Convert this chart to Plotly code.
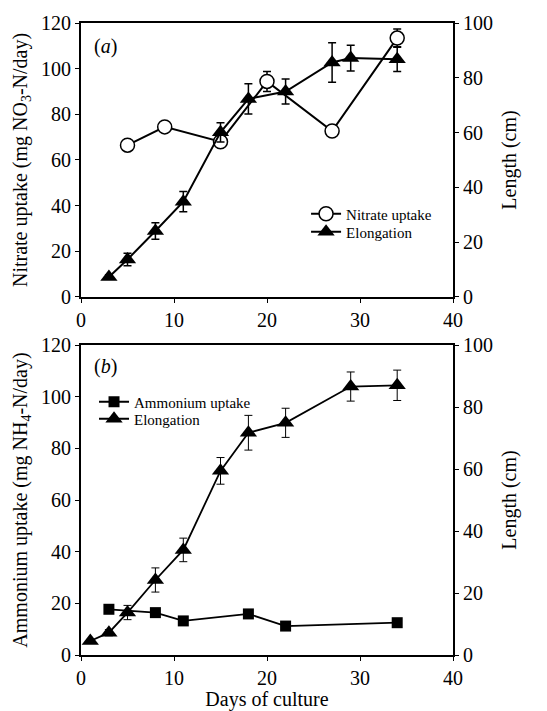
import plotly.graph_objects as go

# ---- data ----
nitrate_days = [5, 9, 15, 20, 27, 34]
nitrate_uptake = [66.5, 74.5, 68, 94.4, 72.7, 113.4]
nitrate_err = [0, 0, 0, 4.4, 0, 4.0]

elong_a_days = [3, 5, 8, 11, 15, 18, 22, 27, 29, 34]
elong_a_len = [7.3, 13.7, 24.1, 34.8, 60.1, 72.3, 75.0, 85.6, 87.2, 86.8]
elong_a_err = [0.8, 2.3, 3.0, 3.7, 3.5, 5.5, 4.6, 7.2, 4.7, 4.5]

ammon_days = [3, 8, 11, 18, 22, 34]
ammon_uptake = [17.7, 16.4, 13.2, 15.9, 11.2, 12.5]

elong_b_days = [1, 3, 5, 8, 11, 15, 18, 22, 29, 34]
elong_b_len = [4.5, 7.2, 13.7, 24.2, 33.9, 59.4, 71.7, 74.9, 86.6, 87.0]
elong_b_err = [0.5, 1.0, 2.3, 3.9, 3.8, 4.3, 5.6, 4.7, 4.7, 4.9]

x_ticks = [0, 10, 20, 30, 40]
left_ticks = [0, 20, 40, 60, 80, 100, 120]
right_ticks = [0, 20, 40, 60, 80, 100]

FONT = "Liberation Serif, Times New Roman, Times, serif"
BLACK = "black"

fig = go.Figure()

# Panel (a)
fig.add_trace(go.Scatter(
    x=nitrate_days, y=nitrate_uptake, mode="lines+markers", name="Nitrate uptake",
    line=dict(color=BLACK, width=2),
    marker=dict(symbol="circle", size=14, color="white", line=dict(color=BLACK, width=1.5)),
    error_y=dict(type="data", array=nitrate_err, color=BLACK, thickness=1.5, width=4),
    xaxis="x", yaxis="y", legend="legend", showlegend=True))
fig.add_trace(go.Scatter(
    x=elong_a_days, y=elong_a_len, mode="lines+markers", name="Elongation",
    line=dict(color=BLACK, width=2),
    marker=dict(symbol="triangle-up", size=15, color=BLACK),
    error_y=dict(type="data", array=elong_a_err, color=BLACK, thickness=1.5, width=4),
    xaxis="x", yaxis="y2", legend="legend3", showlegend=True))

# Panel (b)
fig.add_trace(go.Scatter(
    x=ammon_days, y=ammon_uptake, mode="lines+markers", name="Ammonium uptake",
    line=dict(color=BLACK, width=1.8),
    marker=dict(symbol="square", size=11, color=BLACK),
    xaxis="x2", yaxis="y3", legend="legend2", showlegend=True))
fig.add_trace(go.Scatter(
    x=elong_b_days, y=elong_b_len, mode="lines+markers", name="Elongation",
    line=dict(color=BLACK, width=1.8),
    marker=dict(symbol="triangle-up", size=15, color=BLACK),
    error_y=dict(type="data", array=elong_b_err, color=BLACK, thickness=1, width=4),
    xaxis="x2", yaxis="y4", legend="legend4", showlegend=True))

tickfont = dict(family=FONT, size=20, color=BLACK)
titlefont = dict(family=FONT, size=20, color=BLACK)

common_x = dict(range=[0, 40], tickvals=x_ticks, showgrid=False, zeroline=False,
                showline=True, linecolor=BLACK, linewidth=2, mirror=True,
                ticks="outside", ticklen=4, tickcolor=BLACK, tickwidth=1,
                tickfont=tickfont, automargin=False)
common_yl = dict(range=[0, 120], tickvals=left_ticks, showgrid=False, zeroline=False,
                 showline=True, linecolor=BLACK, linewidth=2,
                 ticks="outside", ticklen=4, tickcolor=BLACK, tickwidth=1,
                 tickfont=tickfont, side="left", automargin=False)
common_yr = dict(range=[0, 100], tickvals=right_ticks, showgrid=False, zeroline=False,
                 showline=True, linecolor=BLACK, linewidth=2,
                 ticks="outside", ticklen=4, tickcolor=BLACK, tickwidth=1,
                 tickfont=tickfont, side="right", automargin=False)

legfont = dict(family=FONT, size=15, color=BLACK)


def leg(x, y):
    return dict(x=x, y=y, xanchor="left", yanchor="middle", font=legfont,
                bgcolor="rgba(0,0,0,0)", tracegroupgap=0, itemwidth=30, visible=True)


fig.update_layout(
    template="none",
    showlegend=True,
    width=547, height=711,
    margin=dict(l=81, r=94, t=23, b=56),
    paper_bgcolor="white", plot_bgcolor="white",
    font=dict(family=FONT, color=BLACK),
    xaxis=dict(common_x, domain=[0, 1], anchor="y"),
    yaxis=dict(common_yl, domain=[0.5665, 1], anchor="x",
               title=dict(text="Nitrate uptake (mg NO<sub>3</sub>-N/day)", font=titlefont, standoff=8)),
    yaxis2=dict(common_yr, overlaying="y", anchor="x",
                title=dict(text="Length (cm)", font=titlefont, standoff=10)),
    xaxis2=dict(common_x, domain=[0, 1], anchor="y3",
                title=dict(text="Days of culture", font=titlefont, standoff=13)),
    yaxis3=dict(common_yl, domain=[0, 0.4905], anchor="x2",
                title=dict(text="Ammonium uptake (mg NH<sub>4</sub>-N/day)", font=titlefont, standoff=8)),
    yaxis4=dict(common_yr, overlaying="y3", anchor="x2",
                title=dict(text="Length (cm)", font=titlefont, standoff=10)),
    legend=leg(0.605, 0.6978),
    legend3=leg(0.605, 0.6693),
    legend2=leg(0.035, 0.4003),
    legend4=leg(0.035, 0.3734),
    annotations=[
        dict(text="(<i>a</i>)", x=2.6, y=109.5, xref="x", yref="y", showarrow=False,
             font=dict(family=FONT, size=20, color=BLACK)),
        dict(text="(<i>b</i>)", x=2.6, y=111.5, xref="x2", yref="y3", showarrow=False,
             font=dict(family=FONT, size=20, color=BLACK)),
    ],
)

fig.write_html(
    "out.html",
    config={"displayModeBar": False},
    post_script="document.body.style.margin='0';document.body.style.overflow='hidden';",
)
